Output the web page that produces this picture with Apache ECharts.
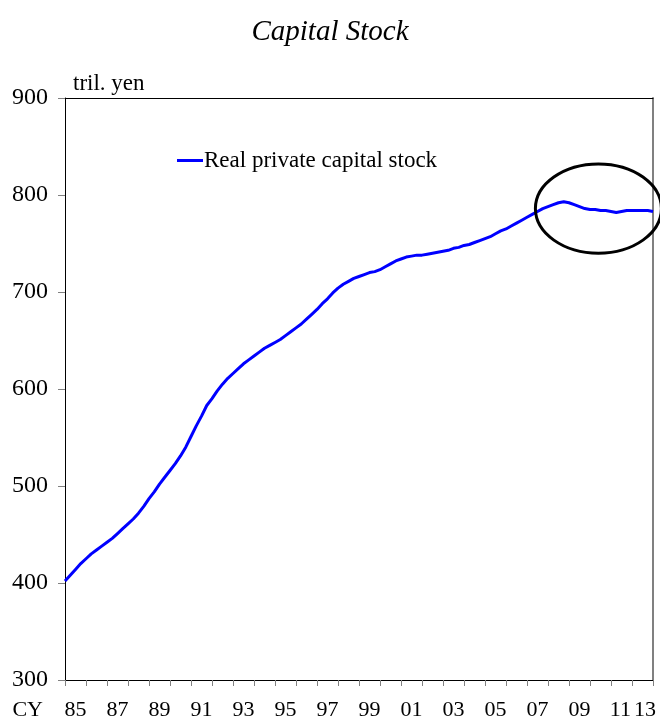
<!DOCTYPE html>
<html>
<head>
<meta charset="utf-8">
<style>html,body{margin:0;padding:0;background:#fff;}#c{width:660px;height:723px;}</style>
<script src="https://cdn.jsdelivr.net/npm/echarts@6/dist/echarts.min.js"></script>
</head>
<body>
<div id="c"></div>
<script>
// ---- data (quarterly, trillion yen) ----
const startYear = 1985;
const endYear = 2013;
const seriesName = 'Real private capital stock';
const capitalStock = [
  402, 408, 414, 420,   // 1985
  425, 430, 434, 438,   // 1986
  442, 446, 451, 456,   // 1987
  461, 466, 472, 479,   // 1988
  487, 494, 502, 509,   // 1989
  516, 523, 531, 540,   // 1990
  551, 562, 572, 583,   // 1991
  590, 598, 605, 611,   // 1992
  616, 621, 626, 630,   // 1993
  634, 638, 642, 645,   // 1994
  648, 651, 655, 659,   // 1995
  663, 667, 672, 677,   // 1996
  682, 688, 693, 699,   // 1997
  704, 708, 711, 714,   // 1998
  716, 718, 720, 721,   // 1999
  723, 726, 729, 732,   // 2000
  734, 736, 737, 738,   // 2001
  738, 739, 740, 741,   // 2002
  742, 743, 745, 746,   // 2003
  748, 749, 751, 753,   // 2004
  755, 757, 760, 763,   // 2005
  765, 768, 771, 774,   // 2006
  777, 780, 783, 786,   // 2007
  788, 790, 792, 793,   // 2008
  792, 790, 788, 786,   // 2009
  785, 785, 784, 784,   // 2010
  783, 782, 783, 784,   // 2011
  784, 784, 784, 784,   // 2012
  783                   // 2013
];
const xTickLabels = ['85','87','89','91','93','95','97','99','01','03','05','07','09','11','13'];
const xLabelPositions = [1985.5,1987.5,1989.5,1991.5,1993.5,1995.5,1997.5,1999.5,2001.5,2003.5,2005.5,2007.5,2009.5,2011.45,2012.62];
const yMin = 300, yMax = 900, yStep = 100;
const annotation = { year: 2010.4, value: 786, halfYears: 3.0, halfValue: 46 };

// ---- build ----
const lineData = capitalStock.map((v, i) => [startYear + i / 4, v]);
const yearTicks = [];
for (let y = startYear; y <= endYear; y++) yearTicks.push(y);
const labelMap = {};
xLabelPositions.forEach((p, i) => { labelMap[p] = xTickLabels[i]; });

const serif = 'Liberation Serif, Times New Roman, serif';
const chart = echarts.init(document.getElementById('c'), null, { renderer: 'canvas' });
chart.setOption({
  animation: false,
  backgroundColor: '#fff',
  textStyle: { fontFamily: serif, color: '#000' },
  title: {
    text: 'Capital Stock', left: 'center', top: 13,
    textStyle: { fontFamily: serif, fontStyle: 'italic', fontWeight: 'normal', fontSize: 29, color: '#000' }
  },
  legend: {
    left: 172, top: 144, icon: 'rect', itemWidth: 26, itemHeight: 3, itemGap: 0,
    textStyle: { fontFamily: serif, fontSize: 23, color: '#000', padding: [0, 0, 0, -4] },
    data: [seriesName]
  },
  grid: { left: 65, right: 7, top: 98, bottom: 43, containLabel: false },
  xAxis: [{
    type: 'value', min: startYear, max: endYear, position: 'bottom',
    name: 'CY', nameLocation: 'start', nameGap: 22,
    nameTextStyle: { fontFamily: serif, fontSize: 22, color: '#000', verticalAlign: 'top', padding: [19, 0, 0, 0] },
    axisLine: { show: true, lineStyle: { color: '#000', width: 1 } },
    axisTick: { show: true, length: 6, customValues: yearTicks, lineStyle: { color: '#808080', width: 1 } },
    axisLabel: {
      customValues: xLabelPositions, margin: 19,
      fontFamily: serif, fontSize: 22, color: '#000',
      formatter: v => labelMap[v] || ''
    },
    splitLine: { show: false }
  }, {
    type: 'value', min: startYear, max: endYear, position: 'top',
    axisLine: { show: true, lineStyle: { color: '#000', width: 1 } },
    axisTick: { show: false }, axisLabel: { show: false }, splitLine: { show: false }
  }],
  yAxis: [{
    type: 'value', min: yMin, max: yMax, interval: yStep, position: 'left',
    name: 'tril. yen', nameLocation: 'end', nameGap: 3,
    nameTextStyle: { fontFamily: serif, fontSize: 23, color: '#000', align: 'left', verticalAlign: 'bottom', padding: [0, 0, 0, 8] },
    axisLine: { show: true, lineStyle: { color: '#000', width: 1 } },
    axisTick: { show: true, length: 7, lineStyle: { color: '#808080', width: 1 } },
    axisLabel: { margin: 17, fontFamily: serif, fontSize: 24, color: '#000' },
    splitLine: { show: false }
  }, {
    type: 'value', min: yMin, max: yMax, interval: yStep, position: 'right',
    axisLine: { show: true, lineStyle: { color: '#808080', width: 2 } },
    axisTick: { show: false }, axisLabel: { show: false }, splitLine: { show: false }
  }],
  series: [{
    name: seriesName, type: 'line', xAxisIndex: 0, yAxisIndex: 0,
    data: lineData, showSymbol: false, symbol: 'none',
    lineStyle: { color: '#0000ff', width: 3 }, itemStyle: { color: '#0000ff' }
  }]
});

const c = chart.convertToPixel({ gridIndex: 0 }, [annotation.year, annotation.value]);
const e = chart.convertToPixel({ gridIndex: 0 }, [annotation.year + annotation.halfYears, annotation.value + annotation.halfValue]);
chart.setOption({
  graphic: [{
    type: 'ellipse', z: 100,
    shape: { cx: c[0], cy: c[1], rx: Math.abs(e[0] - c[0]), ry: Math.abs(c[1] - e[1]) },
    style: { fill: 'none', stroke: '#000', lineWidth: 3 }
  }]
});
</script>
</body>
</html>
